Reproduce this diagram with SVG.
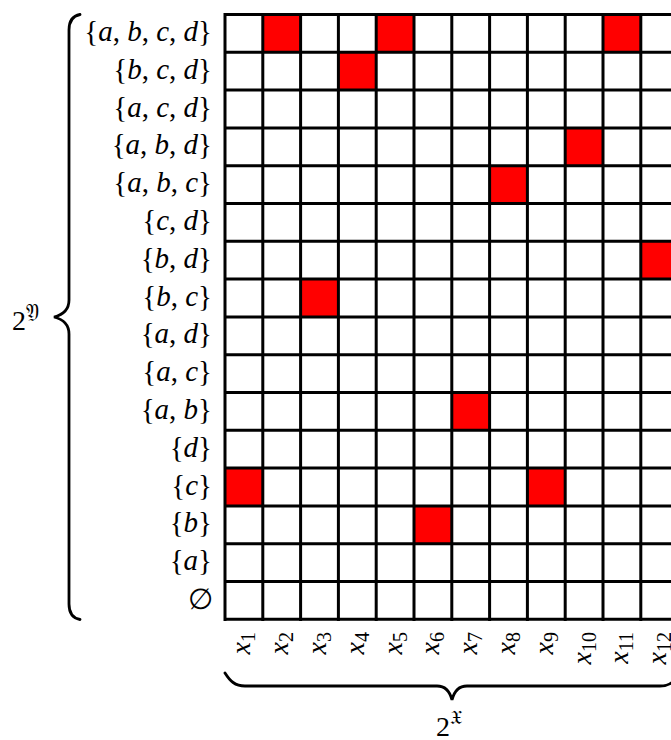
<svg xmlns="http://www.w3.org/2000/svg" width="671" height="740" viewBox="0 0 671 740">
<style>
text{font-family:"Liberation Serif","DejaVu Serif",serif;fill:#000}
.lab{font-size:29px;text-anchor:end}
.i{font-style:italic}
.col{font-size:28px;text-anchor:end;font-style:italic}
.sub{font-size:20px;font-style:normal}
.red{fill:#ff0000}
.grid{fill:none;stroke:#000;stroke-width:3}
.brace{fill:none;stroke:#000;stroke-width:2.8;stroke-linecap:round}
</style>
<rect width="671" height="740" fill="#fff"/>
<g id="cells">
<rect class="red" x="262.8" y="14.5" width="37.8" height="37.8"/>
<rect class="red" x="376.2" y="14.5" width="37.8" height="37.8"/>
<rect class="red" x="603.0" y="14.5" width="37.8" height="37.8"/>
<rect class="red" x="338.4" y="52.3" width="37.8" height="37.8"/>
<rect class="red" x="565.2" y="127.9" width="37.8" height="37.8"/>
<rect class="red" x="489.6" y="165.7" width="37.8" height="37.8"/>
<rect class="red" x="640.8" y="241.3" width="37.8" height="37.8"/>
<rect class="red" x="300.6" y="279.1" width="37.8" height="37.8"/>
<rect class="red" x="451.8" y="392.5" width="37.8" height="37.8"/>
<rect class="red" x="225.0" y="468.1" width="37.8" height="37.8"/>
<rect class="red" x="527.4" y="468.1" width="37.8" height="37.8"/>
<rect class="red" x="414.0" y="505.9" width="37.8" height="37.8"/>
</g>
<g id="grid">
<path class="grid" d="M225 14.5H680M225 52.3H680M225 90.1H680M225 127.9H680M225 165.7H680M225 203.5H680M225 241.3H680M225 279.1H680M225 316.9H680M225 354.7H680M225 392.5H680M225 430.3H680M225 468.1H680M225 505.9H680M225 543.7H680M225 581.5H680M225 619.3H680"/>
<path class="grid" d="M225 13V621M262.8 13V621M300.6 13V621M338.4 13V621M376.2 13V621M414 13V621M451.8 13V621M489.6 13V621M527.4 13V621M565.2 13V621M603 13V621M640.8 13V621"/>
</g>
<g id="row-labels">
<text class="lab" x="212" y="41">{<tspan class="i">a</tspan>, <tspan class="i">b</tspan>, <tspan class="i">c</tspan>, <tspan class="i">d</tspan>}</text>
<text class="lab" x="212" y="78.8">{<tspan class="i">b</tspan>, <tspan class="i">c</tspan>, <tspan class="i">d</tspan>}</text>
<text class="lab" x="212" y="116.6">{<tspan class="i">a</tspan>, <tspan class="i">c</tspan>, <tspan class="i">d</tspan>}</text>
<text class="lab" x="212" y="154.4">{<tspan class="i">a</tspan>, <tspan class="i">b</tspan>, <tspan class="i">d</tspan>}</text>
<text class="lab" x="212" y="192.2">{<tspan class="i">a</tspan>, <tspan class="i">b</tspan>, <tspan class="i">c</tspan>}</text>
<text class="lab" x="212" y="230">{<tspan class="i">c</tspan>, <tspan class="i">d</tspan>}</text>
<text class="lab" x="212" y="267.8">{<tspan class="i">b</tspan>, <tspan class="i">d</tspan>}</text>
<text class="lab" x="212" y="305.6">{<tspan class="i">b</tspan>, <tspan class="i">c</tspan>}</text>
<text class="lab" x="212" y="343.4">{<tspan class="i">a</tspan>, <tspan class="i">d</tspan>}</text>
<text class="lab" x="212" y="381.2">{<tspan class="i">a</tspan>, <tspan class="i">c</tspan>}</text>
<text class="lab" x="212" y="419">{<tspan class="i">a</tspan>, <tspan class="i">b</tspan>}</text>
<text class="lab" x="212" y="456.8">{<tspan class="i">d</tspan>}</text>
<text class="lab" x="212" y="494.6">{<tspan class="i">c</tspan>}</text>
<text class="lab" x="212" y="532.4">{<tspan class="i">b</tspan>}</text>
<text class="lab" x="212" y="570.2">{<tspan class="i">a</tspan>}</text>
<text class="lab" x="213" y="609">∅</text>
</g>
<g id="col-labels">
<text class="col" transform="translate(250.4 632) rotate(-90)">x<tspan class="sub" dy="5">1</tspan></text>
<text class="col" transform="translate(288.2 632) rotate(-90)">x<tspan class="sub" dy="5">2</tspan></text>
<text class="col" transform="translate(326 632) rotate(-90)">x<tspan class="sub" dy="5">3</tspan></text>
<text class="col" transform="translate(363.8 632) rotate(-90)">x<tspan class="sub" dy="5">4</tspan></text>
<text class="col" transform="translate(401.6 632) rotate(-90)">x<tspan class="sub" dy="5">5</tspan></text>
<text class="col" transform="translate(439.4 632) rotate(-90)">x<tspan class="sub" dy="5">6</tspan></text>
<text class="col" transform="translate(477.2 632) rotate(-90)">x<tspan class="sub" dy="5">7</tspan></text>
<text class="col" transform="translate(515 632) rotate(-90)">x<tspan class="sub" dy="5">8</tspan></text>
<text class="col" transform="translate(552.8 632) rotate(-90)">x<tspan class="sub" dy="5">9</tspan></text>
<text class="col" transform="translate(590.6 632) rotate(-90)">x<tspan class="sub" dy="5">10</tspan></text>
<text class="col" transform="translate(628.4 632) rotate(-90)">x<tspan class="sub" dy="5">11</tspan></text>
<text class="col" transform="translate(666.2 632) rotate(-90)">x<tspan class="sub" dy="5">12</tspan></text>
</g>
<g id="braces">
<path class="brace" d="M80 14.5C72 16 69 21 69 30V300C69 310 62 315 54 317C62 319 69 324 69 334V604C69 613 72 618 80 619.5"/>
<path class="brace" d="M225 673C230 681 235 686 245 686H437C445 686 450 692 452 700C454 692 459 686 467 686H660C670 686 675 681 680 673"/>
</g>
<g id="set-labels">
<text x="12" y="330" font-size="28">2<tspan font-size="20" dy="-12">𝔜</tspan></text>
<text x="436" y="736" font-size="28">2<tspan font-size="20" dy="-12">𝔛</tspan></text>
</g>
</svg>
